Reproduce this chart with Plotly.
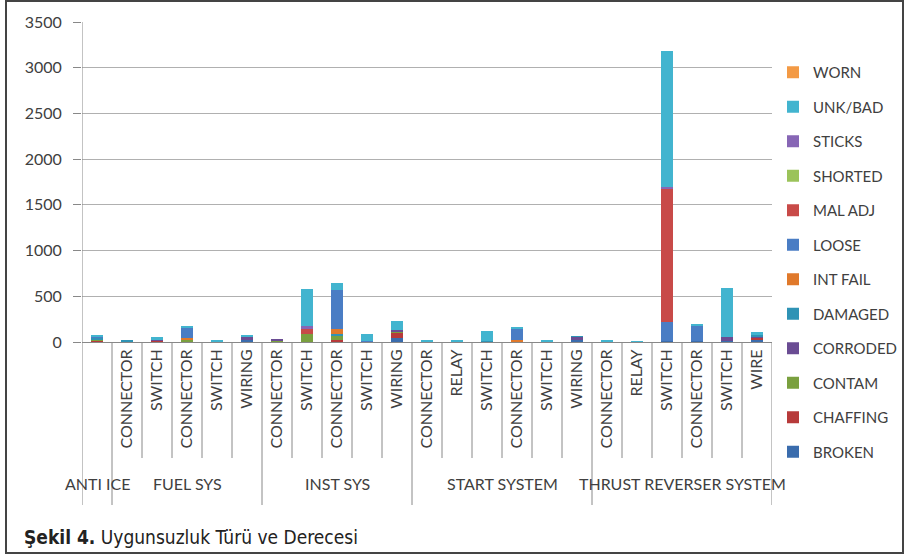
import plotly.graph_objects as go

# ---------------- data ----------------
groups = ["ANTI ICE", "FUEL SYS", "INST SYS", "START SYSTEM", "THRUST REVERSER SYSTEM"]
group_sizes = [1, 5, 5, 6, 6]
sub_labels = ["",
              "CONNECTOR", "SWITCH", "CONNECTOR", "SWITCH", "WIRING",
              "CONNECTOR", "SWITCH", "CONNECTOR", "SWITCH", "WIRING",
              "CONNECTOR", "RELAY", "SWITCH", "CONNECTOR", "SWITCH", "WIRING",
              "CONNECTOR", "RELAY", "SWITCH", "CONNECTOR", "SWITCH", "WIRE"]

series_names = ["BROKEN", "CHAFFING", "CONTAM", "CORRODED", "DAMAGED", "INT FAIL",
                "LOOSE", "MAL ADJ", "SHORTED", "STICKS", "UNK/BAD", "WORN"]

broken   = [0, 5, 5, 5, 0, 20, 5, 5, 10, 5, 45, 0, 0, 5, 0, 0, 25, 0, 0, 10, 10, 10, 30]
chaffing = [15, 0, 10, 0, 0, 0, 0, 0, 10, 0, 55, 0, 0, 0, 0, 0, 0, 0, 0, 0, 0, 0, 20]
contam   = [5, 0, 0, 25, 0, 0, 15, 80, 50, 0, 15, 0, 0, 0, 10, 0, 0, 0, 0, 0, 0, 0, 0]
corroded = [0, 0, 10, 0, 0, 40, 10, 0, 0, 0, 15, 0, 0, 0, 0, 0, 30, 0, 0, 0, 0, 40, 15]
damaged  = [25, 10, 0, 0, 10, 0, 0, 0, 15, 0, 0, 10, 8, 10, 0, 10, 10, 7, 6, 0, 0, 0, 10]
int_fail = [5, 0, 0, 15, 0, 0, 0, 0, 55, 0, 0, 0, 0, 0, 10, 0, 0, 0, 0, 0, 0, 0, 0]
loose    = [15, 0, 0, 115, 0, 0, 0, 0, 430, 10, 0, 0, 0, 0, 125, 0, 0, 0, 0, 205, 170, 0, 0]
mal_adj  = [0, 0, 0, 0, 0, 0, 0, 55, 0, 0, 0, 0, 0, 0, 0, 0, 0, 0, 0, 1465, 0, 0, 0]
shorted  = [0, 0, 0, 0, 0, 0, 0, 0, 0, 0, 0, 0, 0, 0, 0, 0, 0, 0, 0, 0, 0, 0, 0]
sticks   = [0, 0, 0, 0, 0, 0, 0, 30, 0, 0, 0, 0, 0, 0, 0, 0, 0, 0, 0, 15, 0, 0, 0]
unk_bad  = [10, 0, 35, 20, 15, 10, 0, 415, 80, 70, 105, 5, 4, 110, 15, 15, 0, 5, 4, 1485, 20, 545, 35]
worn     = [0, 0, 0, 0, 0, 0, 0, 0, 0, 0, 0, 0, 0, 0, 0, 0, 0, 0, 0, 0, 0, 0, 0]

series_values = [broken, chaffing, contam, corroded, damaged, int_fail,
                 loose, mal_adj, shorted, sticks, unk_bad, worn]
series_colors = ["#3a6cad", "#b73a3a", "#7aa03f", "#6a4c93", "#2f93b5", "#e0792b",
                 "#4a7dc4", "#c84a48", "#9bc35a", "#8766b5", "#42b4cf", "#f39a45"]

y_ticks = [0, 500, 1000, 1500, 2000, 2500, 3000, 3500]
caption_bold = "Şekil 4."
caption_rest = "Uygunsuzluk Türü ve Derecesi"

# ---------------- figure ----------------
x = list(range(len(sub_labels)))
FONT = "Lato, Calibri, Carlito, sans-serif"
TXT = "#404040"

fig = go.Figure()
n = len(series_names)
for k, (name, vals, col) in enumerate(zip(series_names, series_values, series_colors)):
    fig.add_trace(go.Bar(x=x, y=vals, name=name, marker_color=col,
                         marker_line_width=0, legendgroup=name, legendrank=n - k,
                         width=0.4))

# plot geometry (px) for paper conversion
L, R, T, B = 82, 137, 22, 215
W = 909 - L - R
H = 557 - T - B

def py(pix):
    return (342 - pix) / H

def px(pix):
    return (pix - L) / W

shapes = []
shapes.append(dict(type="line", xref="x", yref="paper", x0=-0.5, x1=-0.5,
                   y0=1, y1=py(505), line=dict(color="#888888", width=1)))
shapes.append(dict(type="line", xref="x", yref="paper", x0=len(x) - 0.5, x1=len(x) - 0.5,
                   y0=0, y1=py(505), line=dict(color="#888888", width=1)))
bounds = []
acc = 0
for s in group_sizes[:-1]:
    acc += s
    bounds.append(acc)
for i in range(1, len(x)):
    long_ = i in bounds
    shapes.append(dict(type="line", xref="x", yref="paper", x0=i - 0.5, x1=i - 0.5,
                       y0=0, y1=py(505) if long_ else py(458),
                       line=dict(color="#888888", width=1)))
shapes.append(dict(type="rect", xref="paper", yref="paper",
                   x0=px(6), x1=px(903), y0=py(553), y1=py(1),
                   line=dict(color="#444444", width=2)))

annotations = []
start = 0
for g, s in zip(groups, group_sizes):
    center = start + (s - 1) / 2
    annotations.append(dict(x=center, y=py(483), xref="x", yref="paper", text=g,
                            showarrow=False, font=dict(family=FONT, size=16, color=TXT),
                            xanchor="center", yanchor="middle"))
    start += s
annotations.append(dict(x=px(22), y=py(537), xref="paper", yref="paper",
                        text=f"<b>{caption_bold}</b> {caption_rest}", showarrow=False,
                        xanchor="left", yanchor="middle",
                        font=dict(family="Liberation Sans Narrow, Arial Narrow, DejaVu Sans Condensed, sans-serif",
                                  size=19, color="#222222")))

fig.update_layout(
    barmode="stack",
    width=909, height=557,
    margin=dict(l=L, r=R, t=T, b=B, pad=0, autoexpand=False),
    paper_bgcolor="white", plot_bgcolor="white",
    font=dict(family=FONT, color=TXT, size=16),
    showlegend=True,
    legend=dict(traceorder="grouped", tracegroupgap=12, maxheight=520,
                x=px(773), xanchor="left", y=py(56), yanchor="top",
                font=dict(family=FONT, size=15, color=TXT), bgcolor="rgba(0,0,0,0)"),
    shapes=shapes,
    annotations=annotations,
    bargap=0.6,
)
fig.update_xaxes(range=[-0.5, len(x) - 0.5], tickmode="array", tickvals=x, ticktext=sub_labels,
                 tickangle=-90, showgrid=False, showline=True, linecolor="#888888", linewidth=1,
                 ticks="", tickfont=dict(family=FONT, size=16, color=TXT), zeroline=False,
                 automargin=False)
fig.update_yaxes(range=[0, 3500], tickmode="array", tickvals=y_ticks,
                 showgrid=True, gridcolor="#b0b0b0", gridwidth=1, zeroline=False,
                 showline=False, ticks="outside", ticklen=8, tickcolor="#888888",
                 ticklabelstandoff=8, automargin=False,
                 tickfont=dict(family=FONT, size=16, color=TXT))

fig.write_html("out.html")
